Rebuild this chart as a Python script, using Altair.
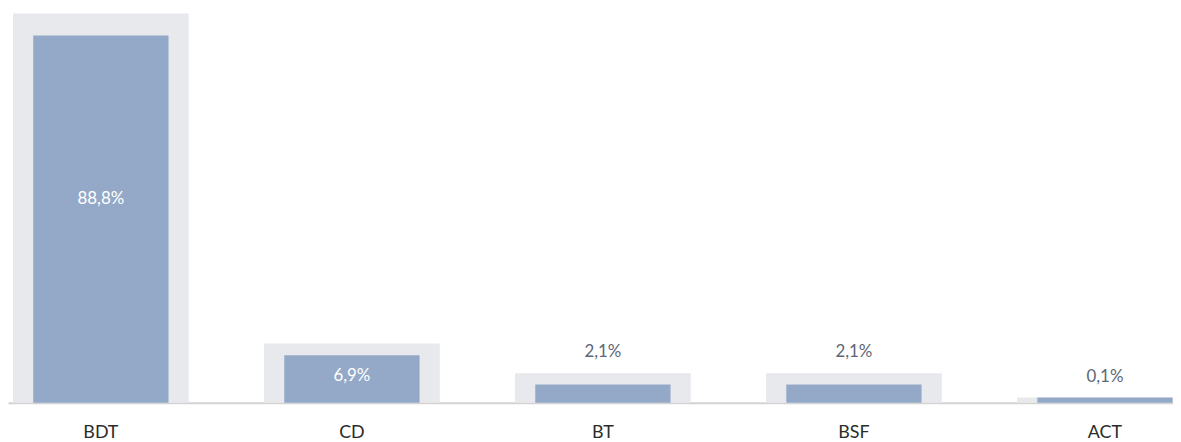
import altair as alt
import pandas as pd

categories = ["BDT", "CD", "BT", "BSF", "ACT"]
values = [88.8, 6.9, 2.1, 2.1, 0.1]
backgrounds = [95.5, 9.1, 3.8, 3.8, 0.1]

df = pd.DataFrame({"cat": categories, "value": values, "bg": backgrounds})

FONT = "Lato"

x_enc = alt.X(
    "cat:N",
    sort=categories,
    title=None,
    scale=alt.Scale(range=[0, 1198], paddingInner=0.3, paddingOuter=0.02),
    axis=alt.Axis(
        labelAngle=0,
        labelFont=FONT,
        labelFontSize=18,
        labelColor="#2b2b2b",
        labelPadding=21,
        ticks=False,
        domainColor="#d3d3d3",
        domainWidth=2,
        grid=False,
    ),
)
y_scale = alt.Scale(type="pow", exponent=0.8, domain=[0, 96.7], nice=False, zero=True)

base = alt.Chart(df).transform_calculate(
    vh="max(datum.value, 0.45)",
    bh="max(datum.bg, 0.45)",
    mid="max(datum.value, 0.45) * 0.48",
    label="replace(format(datum.value, '.1f'), '.', ',') + '%'",
    inside="datum.value > 5",
)

bg = base.mark_bar(color="#e8e9ed").encode(
    x=x_enc,
    y=alt.Y("bh:Q", scale=y_scale, axis=None),
)

bars = base.mark_bar(color="#94a9c8", width={"band": 0.77}).encode(
    x=x_enc,
    y=alt.Y("vh:Q", scale=y_scale, axis=None),
)

inside_labels = base.transform_filter("datum.inside").mark_text(
    font=FONT, fontSize=17, color="#ffffff", baseline="middle"
).encode(
    x=x_enc,
    y=alt.Y("mid:Q", scale=y_scale, axis=None),
    text="label:N",
)

outside_labels = base.transform_filter("!datum.inside").mark_text(
    font=FONT, fontSize=17, color="#5d6778", baseline="middle", dy=-21
).encode(
    x=x_enc,
    y=alt.Y("bh:Q", scale=y_scale, axis=None),
    text="label:N",
)

chart = (
    alt.layer(bg, bars, inside_labels, outside_labels)
    .properties(
        width=1173,
        height=396,
        autosize=alt.AutoSizeParams(type="none"),
        padding={"left": 0, "top": 0, "right": 0, "bottom": 38},
    )
    .configure_view(stroke=None)
)

chart.save("out.html", embed_options={"renderer": "svg", "actions": False})
